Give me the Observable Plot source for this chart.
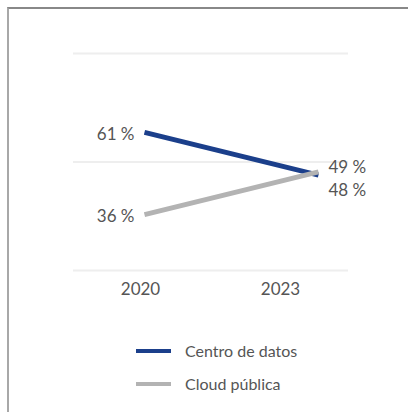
<!DOCTYPE html>
<html>
<head>
<meta charset="utf-8">
<script src="https://cdn.jsdelivr.net/npm/d3@7"></script>
<script src="https://cdn.jsdelivr.net/npm/@observablehq/plot@0.6"></script>
<style>
  html, body { margin: 0; padding: 0; background: #fff; width: 408px; height: 412px; overflow: hidden; }
  #frame { position: absolute; left: 7px; top: 7px; right: -10px; bottom: -10px;
           border-left: 2px solid #a8a8a8; border-top: 2px solid #888; }
  #chart { position: absolute; left: 0; top: 0; }
  #legend { position: absolute; left: 136px; top: 334px; font-family: Lato, sans-serif; font-size: 16px; color: #555; }
  .row { display: flex; align-items: center; height: 33px; }
  .sw { width: 35px; height: 4px; margin-right: 14px; }
</style>
</head>
<body>
<div id="frame"></div>
<div id="chart"></div>
<div id="legend"></div>
<script>
const years = [2020, 2023];
const seriesNames = ["Centro de datos", "Cloud pública"];
const centroDatos = [61, 48];
const cloudPublica = [36, 49];
const colors = ["#1b3f8b", "#b3b3b3"];
const gridTicks = [19, 52, 85];

const data = [];
[centroDatos, cloudPublica].forEach((vals, i) => {
  vals.forEach((v, j) => data.push({serie: seriesNames[i], year: years[j], value: v}));
});
const start = data.filter(d => d.year === years[0]);
const endC = data.filter(d => d.year === years[1] && d.serie === seriesNames[0]);
const endP = data.filter(d => d.year === years[1] && d.serie === seriesNames[1]);
const fmt = d => `${d.value} %`;
const ink = "#555";

const plot = Plot.plot({
  width: 408,
  height: 310,
  marginLeft: 73,
  marginRight: 60,
  marginTop: 53,
  marginBottom: 40,
  style: {fontFamily: "Lato, sans-serif", fontSize: "17px", color: ink, background: "transparent"},
  x: {type: "linear", domain: years, range: [144, 318], label: null, axis: null},
  y: {domain: [gridTicks[0], gridTicks[2]], range: [270, 53], label: null, axis: null},
  color: {domain: seriesNames, range: colors},
  marks: [
    Plot.gridY(gridTicks, {stroke: "#eeeeee", strokeOpacity: 1, strokeWidth: 2}),
    Plot.line(data, {x: "year", y: "value", z: "serie", stroke: "serie", strokeWidth: 5, strokeLinecap: "butt"}),
    Plot.text(start, {x: "year", y: "value", text: fmt, textAnchor: "end", dx: -10, dy: 2, fill: ink}),
    Plot.text(endP, {x: "year", y: "value", text: fmt, textAnchor: "start", dx: 10, dy: -4, fill: ink}),
    Plot.text(endC, {x: "year", y: "value", text: fmt, textAnchor: "start", dx: 10, dy: 15, fill: ink}),
    Plot.axisX([years[0]], {tickSize: 0, tickPadding: 12, tickFormat: d => String(d), fill: ink, dx: -4, label: null}),
    Plot.axisX([years[1]], {tickSize: 0, tickPadding: 12, tickFormat: d => String(d), fill: ink, dx: -38, label: null})
  ]
});
document.getElementById("chart").appendChild(plot);

const legend = document.getElementById("legend");
seriesNames.forEach((name, i) => {
  const row = document.createElement("div");
  row.className = "row";
  const sw = document.createElement("span");
  sw.className = "sw";
  sw.style.background = colors[i];
  const label = document.createElement("span");
  label.textContent = name;
  row.appendChild(sw);
  row.appendChild(label);
  legend.appendChild(row);
});
</script>
</body>
</html>
